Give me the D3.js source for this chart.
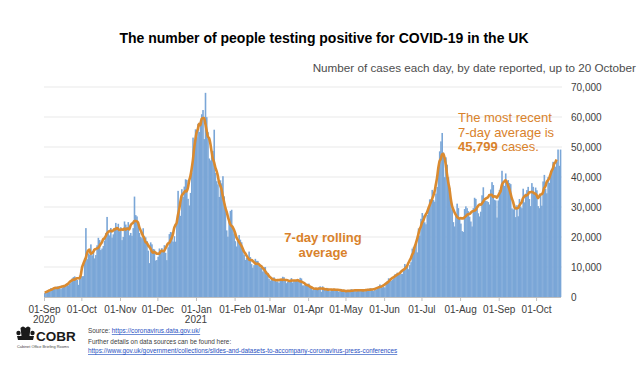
<!DOCTYPE html>
<html><head><meta charset="utf-8">
<script src="https://cdn.jsdelivr.net/npm/d3@7"></script>
<style>
body{margin:0;background:#fff}
svg{display:block;font-family:"Liberation Sans",Arial,sans-serif}
</style>
</head><body>
<svg id="c" width="640" height="366"></svg>
<script>
// ---- Data: daily cases by date reported (UK) ----
const priorDays=[1108,1715,1406]; // 29-31 Aug 2020, used only for the rolling average
const sep2020=[1295,1508,1735,1940,1813,2988,2948,2460,2659,2919,3539,3497,3330,2621,3105,3991,3395,4322,4422,3899,4368,4926,6178,6634,6874,6042,5693,4044,7143,7108];
const oct2020=[6914,6968,12872,22961,12594,14542,14162,17540,13864,15166,12872,13972,17234,19724,18980,15650,16171,16982,18804,21331,26688,21242,20530,23012,19790,20890,22885,24701,23065,24405,21915];
const nov2020=[23254,18950,20018,25177,24141,23287,24957,20572,21350,20412,22950,33470,27301,26860,24962,21363,20051,19609,22915,20252,19875,18662,15450,11299,18213,17555,16022,15871,12155,12330];
const dec2020=[13430,16170,14879,16298,15539,17272,14718,12282,16578,20964,21672,21502,18447,20263,18450,25161,35383,28507,27052,35928,33364,36804,39237,39036,32725,30501,34693,41385,53135,50023,55892];
const jan2021=[53285,57725,54990,58784,60916,62322,52618,68053,59937,54940,46169,45533,47525,48682,55761,41346,38598,37535,33355,38905,37892,40261,33552,30004,22195,20089,25308,28680,29079,23275,21088];
const feb2021=[18607,16840,19202,20634,19114,18262,15845,14104,12364,13013,13494,15144,13308,10972,9765,10625,12718,12057,12027,10406,9834,10641,8489,9938,9985,8523,7434,6035];
const mar2021=[5455,6391,5766,6573,6040,5177,5177,4712,5766,5926,6753,6609,5534,4618,5089,5294,5758,6303,4802,5587,5312,5342,5379,5605,6397,6187,3862,3862,4654,4052,4040];
const apr2021=[4479,3402,3423,2297,2762,2379,2589,2763,3150,3568,1730,3568,2472,2491,2672,3029,2206,1882,2524,2396,2729,2568,2678,2596,1712,2064,2685,2166,2381,2069];
const may2021=[1907,1671,1649,1946,2613,2490,2047,2022,1770,2357,2474,2284,2657,2193,2027,1926,1979,2412,2696,2874,2829,2235,1979,2439,2493,3180,3542,4182,3398,3240,3383];
const jun2021=[3165,4330,5274,6238,5765,5341,5683,6048,7540,7393,8125,7738,7490,7742,7673,9055,11007,10476,10321,9284,10633,11625,16135,16703,15810,18270,14876,22868,20479,26068];
const jul2021=[27989,27125,24885,24248,27334,28773,32548,32551,35707,32367,31772,34471,36660,42302,48553,51870,54674,48161,39950,46558,44104,39906,36389,31795,29173,24950,23511,27734,31117,29622,26144];
const aug2021=[24470,21952,21691,29312,30215,29612,28612,26750,25161,23510,29612,33074,32700,29520,27900,26852,28438,33904,36572,32406,32058,31914,31631,30838,35847,38281,37314,32406,32181,26476,32181];
const sep2021=[35693,35375,42076,37578,37011,41192,37489,38975,38013,37622,29547,29173,30825,26628,30597,26911,32651,30144,29612,36100,31564,34460,35623,36710,32651,30301,37960,36722,34526,36480];
const oct2021=[35577,30301,29612,33869,30439,38520,40701,36060,34574,39962,38013,40224,42776,45066,44932,43423,45140,49156,43738,49139];
const monthArrays=[sep2020,oct2020,nov2020,dec2020,jan2021,feb2021,mar2021,apr2021,may2021,jun2021,jul2021,aug2021,sep2021,oct2021];
const yTicks=[0,10000,20000,30000,40000,50000,60000,70000];
const yearLabels=[{date:"2020-09-01",label:"2020"},{date:"2021-01-01",label:"2021"}];
const titleText="The number of people testing positive for COVID-19 in the UK";
const subtitleText="Number of cases each day, by date reported, up to 20 October";
const noteLines=["The most recent","7-day average is"];
const latestAvgLabel="45,799";
const rollingLabel=["7-day rolling","average"];

// ---- Build ----
const DAY=864e5;
const start=Date.UTC(2020,8,1);
const daily=[].concat(...monthArrays).map((v,i)=>({date:new Date(start+i*DAY),value:v}));
const n=daily.length;
const ext=priorDays.concat(daily.map(d=>d.value));
const avg=[];
for(let i=0;i<=n-4;i++){
  const w=ext.slice(i,i+7); // centred window (i-3..i+3)
  avg.push({date:daily[i].date,value:d3.mean(w)});
}

const svg=d3.select("#c");
svg.append("rect").attr("width",640).attr("height",366).attr("fill","#fff");

const x=d3.scaleUtc().domain([new Date(start),new Date(start+n*DAY)]).range([44,561]);
const y=d3.scaleLinear().domain([0,70000]).range([297,87]);

// gridlines
svg.append("g").selectAll("line").data(yTicks.filter(t=>t>0)).join("line")
  .attr("x1",44).attr("x2",562).attr("y1",d=>y(d)).attr("y2",d=>y(d))
  .attr("stroke","#e9e9e9").attr("stroke-width",1);

// bars
svg.append("g").selectAll("rect").data(daily).join("rect")
  .attr("x",d=>x(d.date))
  .attr("width",d=>x(new Date(+d.date+DAY))-x(d.date)+0.35)
  .attr("y",d=>y(d.value))
  .attr("height",d=>y(0)-y(d.value))
  .attr("fill","#7aa6d7");

// rolling average line
svg.append("path").datum(avg)
  .attr("d",d3.line().x(d=>x(d.date)+0.6).y(d=>y(d.value)).curve(d3.curveMonotoneX))
  .attr("fill","none").attr("stroke","#da8a2f").attr("stroke-width",2.6)
  .attr("stroke-linejoin","round");

// x axis
const months=d3.utcMonth.range(new Date(start),new Date(start+n*DAY));
const xAxis=svg.append("g").attr("transform","translate(0,297)")
  .call(d3.axisBottom(x).tickValues(months).tickFormat(d3.utcFormat("%d-%b")).tickSize(4).tickPadding(5));
xAxis.select(".domain").attr("stroke","#bfbfbf").attr("d","M44,0.5H561");
xAxis.selectAll(".tick line").attr("stroke","#bfbfbf");
xAxis.selectAll(".tick text").attr("font-size",10).attr("fill","#404040").attr("font-family","Liberation Sans, Arial, sans-serif");
svg.append("g").selectAll("text").data(yearLabels).join("text")
  .attr("x",d=>x(new Date(d.date+"T00:00:00Z"))).attr("y",323)
  .attr("text-anchor","middle").attr("font-size",10).attr("fill","#404040").text(d=>d.label);

// y axis (right)
const yAxis=svg.append("g").attr("transform","translate(571,0)")
  .call(d3.axisRight(y).tickValues(yTicks).tickFormat(d3.format(",")).tickSize(0).tickPadding(0));
yAxis.select(".domain").remove();
yAxis.selectAll(".tick text").attr("font-size",10).attr("fill","#404040").attr("font-family","Liberation Sans, Arial, sans-serif");

// titles
svg.append("text").attr("x",324).attr("y",43).attr("text-anchor","middle")
  .attr("font-size",14).attr("font-weight","bold").attr("fill","#000").text(titleText);
svg.append("text").attr("x",636).attr("y",72).attr("text-anchor","end")
  .attr("font-size",11.7).attr("fill","#4d4d4d").text(subtitleText);

// annotations
const orange="#d9822b";
const note=svg.append("text").attr("font-size",13).attr("fill",orange);
note.append("tspan").attr("x",458).attr("y",122).text(noteLines[0]);
note.append("tspan").attr("x",458).attr("y",136.5).text(noteLines[1]);
const l3=note.append("tspan").attr("x",458).attr("y",151);
l3.append("tspan").attr("font-weight","bold").text(latestAvgLabel);
l3.append("tspan").text(" cases.");
const roll=svg.append("text").attr("font-size",13).attr("font-weight","bold").attr("fill",orange).attr("text-anchor","middle");
roll.append("tspan").attr("x",323).attr("y",242).text(rollingLabel[0]);
roll.append("tspan").attr("x",323).attr("y",257).text(rollingLabel[1]);

// COBR logo
const logo=svg.append("g").attr("fill","#1a1a1a");
logo.append("path").attr("d","M20.5,328 q2.5,-3 5,0 q2.5,-3 5,0 l-1,8 q-4,3.5 -8,0 z");
logo.append("circle").attr("cx",18.5).attr("cy",333).attr("r",2.2);
logo.append("circle").attr("cx",32.5).attr("cy",333).attr("r",2.2);
logo.append("path").attr("d","M17,336 h17 l-1,4 h-15 z");
logo.append("text").attr("x",36).attr("y",341).attr("font-size",13.5).attr("font-weight","bold").text("COBR");
logo.append("text").attr("x",17).attr("y",348).attr("font-size",3.8).attr("fill","#444")
  .attr("textLength",52).attr("lengthAdjust","spacingAndGlyphs").text("Cabinet Office Briefing Rooms");

// source notes
const src=svg.append("g").attr("font-size",6.4).attr("fill","#404040");
const s1=src.append("text").attr("x",88).attr("y",333);
s1.append("tspan").text("Source: ");
s1.append("tspan").attr("fill","#1f4fbf").attr("text-decoration","underline").text("https://coronavirus.data.gov.uk/");
src.append("text").attr("x",88).attr("y",344).text("Further details on data sources can be found here:");
src.append("text").attr("x",88).attr("y",353).attr("fill","#1f4fbf").attr("text-decoration","underline")
  .text("https://www.gov.uk/government/collections/slides-and-datasets-to-accompany-coronavirus-press-conferences");
</script>
</body></html>
